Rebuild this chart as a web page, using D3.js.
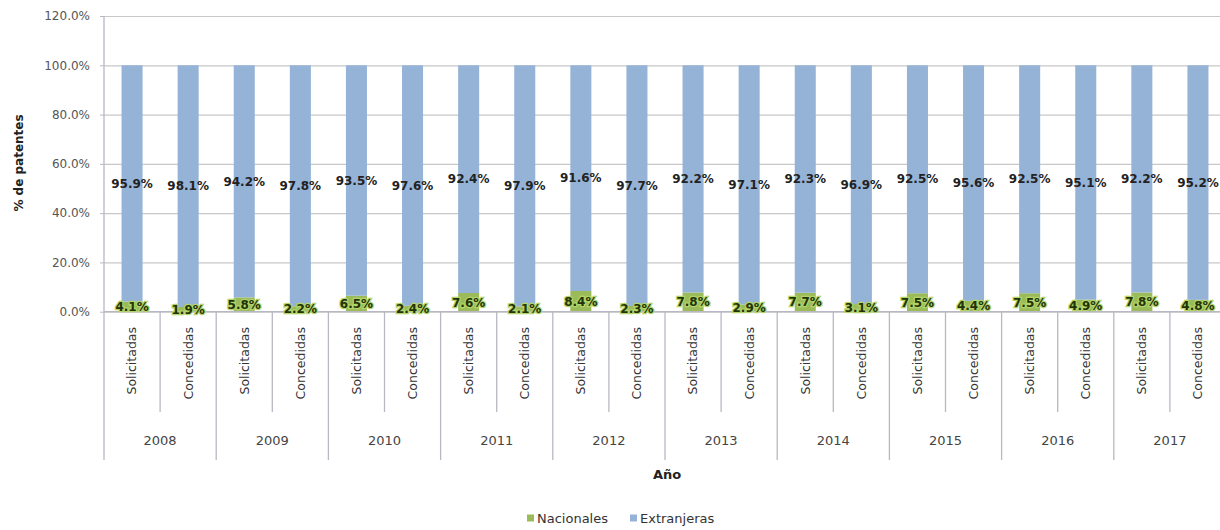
<!DOCTYPE html>
<html>
<head>
<meta charset="utf-8">
<script src="https://cdn.jsdelivr.net/npm/d3@7"></script>
<style>
body { margin: 0; background: #fff; }
text { font-family: "DejaVu Sans", sans-serif; }
</style>
</head>
<body>
<div id="chart"></div>
<script>
// data
var years = ["2008", "2009", "2010", "2011", "2012", "2013", "2014", "2015", "2016", "2017"];
var types = ["Solicitadas", "Concedidas"];
var seriesNames = ["Nacionales", "Extranjeras"];
// one pair per year: [Solicitadas, Concedidas]
var nacionales = [[4.1, 1.9], [5.8, 2.2], [6.5, 2.4], [7.6, 2.1], [8.4, 2.3], [7.8, 2.9], [7.7, 3.1], [7.5, 4.4], [7.5, 4.9], [7.8, 4.8]];
var extranjeras = [[95.9, 98.1], [94.2, 97.8], [93.5, 97.6], [92.4, 97.9], [91.6, 97.7], [92.2, 97.1], [92.3, 96.9], [92.5, 95.6], [92.5, 95.1], [92.2, 95.2]];
var yTicks = [0, 0.2, 0.4, 0.6, 0.8, 1.0, 1.2];

var W = 1220, H = 530;
var colors = {"Nacionales": "#9bbb59", "Extranjeras": "#95b3d7"};

// flat rows for stacking
var rows = [];
years.forEach(function(yr, i) {
	types.forEach(function(t, j) {
		rows.push({year: yr, type: t, Nacionales: nacionales[i][j] / 100, Extranjeras: extranjeras[i][j] / 100});
	});
});

var svg = d3.select("#chart").append("svg")
	.attr("width", W)
	.attr("height", H);

// plot area (right edge runs past the window, as in the reference)
var pLeft = 104, pRight = 1226, pTop = 16, pBottom = 311.7;

var x0 = d3.scaleBand().domain(years).range([pLeft, pRight]).padding(0);
var x1 = d3.scaleBand().domain(types).range([0, x0.bandwidth()])
	.paddingInner(0.625).paddingOuter(0.3125);
var y = d3.scaleLinear().domain([0, 1.2]).range([pBottom, pTop]);

///////////////////////// grid and axis /////////////////////////
var grid = svg.append("g")
	.attr("transform", "translate(" + pLeft + ",0)")
	.call(d3.axisLeft(y).tickValues(yTicks).tickSize(-(pRight - pLeft)).tickFormat(""));
grid.select(".domain").remove();
grid.selectAll("line").attr("stroke", "#c8c8c8").attr("stroke-width", 1.2);

var yAxis = svg.append("g")
	.attr("transform", "translate(" + pLeft + ",0)")
	.call(d3.axisLeft(y).tickValues(yTicks).tickSize(4).tickPadding(10).tickFormat(d3.format(".1%")));
yAxis.select(".domain").remove();
yAxis.selectAll("line").attr("stroke", "#b8b8c4");
yAxis.selectAll("text")
	.attr("fill", "#555")
	.style("font-size", "12px")
	.style("font-family", "DejaVu Sans");

// vertical axis line running down through the category area
svg.append("line")
	.attr("x1", pLeft).attr("x2", pLeft)
	.attr("y1", pTop).attr("y2", 460)
	.attr("stroke", "#b8b8c4").attr("stroke-width", 1.3);

///////////////////////// bars /////////////////////////
var stack = d3.stack().keys(seriesNames)(rows);

var layers = svg.append("g").selectAll("g")
	.data(stack).enter().append("g")
	.attr("fill", function(d) {return colors[d.key];});

layers.selectAll("rect")
	.data(function(d) {return d;})
	.enter().append("rect")
	.attr("x", function(d) {return x0(d.data.year) + x1(d.data.type);})
	.attr("width", x1.bandwidth())
	.attr("y", function(d) {return y(d[1]);})
	.attr("height", function(d) {return y(d[0]) - y(d[1]);});

// x axis line at 0%
svg.append("line")
	.attr("x1", pLeft).attr("x2", pRight)
	.attr("y1", pBottom).attr("y2", pBottom)
	.attr("stroke", "#b8b8c4").attr("stroke-width", 1.3);

// value labels in the middle of each segment
stack.forEach(function(layer) {
	svg.append("g").selectAll("text")
		.data(layer).enter().append("text")
		.attr("x", function(d) {return x0(d.data.year) + x1(d.data.type) + x1.bandwidth() / 2;})
		.attr("y", function(d) {return y((d[0] + d[1]) / 2);})
		.attr("dy", "0.35em")
		.attr("text-anchor", "middle")
		.style("font-size", "12px")
		.style("font-weight", "bold")
		.attr("fill", layer.key == "Nacionales" ? "#233306" : "#222")
		.attr("stroke", layer.key == "Nacionales" ? "#b2d46a" : "none")
		.attr("stroke-width", 2.5)
		.attr("paint-order", "stroke")
		.text(function(d) {return d3.format(".1%")(d.data[layer.key]);});
});

///////////////////////// category axis /////////////////////////
var cat = svg.append("g");
years.forEach(function(yr) {
	var gx = x0(yr);
	// year separator (right edge)
	cat.append("line")
		.attr("x1", gx + x0.bandwidth()).attr("x2", gx + x0.bandwidth())
		.attr("y1", pBottom).attr("y2", 460)
		.attr("stroke", "#b8b8c4").attr("stroke-width", 1.3);
	// inner separator between the two types
	cat.append("line")
		.attr("x1", gx + x0.bandwidth() / 2).attr("x2", gx + x0.bandwidth() / 2)
		.attr("y1", pBottom).attr("y2", 412)
		.attr("stroke", "#b8b8c4").attr("stroke-width", 1.3);
	types.forEach(function(t) {
		var cx = gx + x1(t) + x1.bandwidth() / 2;
		cat.append("text")
			.attr("transform", "translate(" + cx + ",327) rotate(-90)")
			.attr("text-anchor", "end")
			.attr("dy", "0.35em")
			.attr("fill", "#333")
			.style("font-size", "12.5px")
			.text(t);
	});
	cat.append("text")
		.attr("x", gx + x0.bandwidth() / 2)
		.attr("y", 440)
		.attr("dy", "0.35em")
		.attr("text-anchor", "middle")
		.attr("fill", "#444")
		.style("font-size", "13px")
		.text(yr);
});

///////////////////////// titles and legend /////////////////////////
svg.append("text")
	.attr("transform", "translate(19,163) rotate(-90)")
	.attr("text-anchor", "middle")
	.attr("dy", "0.35em")
	.style("font-size", "12px")
	.style("font-weight", "bold")
	.attr("fill", "#222")
	.text("% de patentes");

svg.append("text")
	.attr("x", 667).attr("y", 474)
	.attr("dy", "0.35em")
	.attr("text-anchor", "middle")
	.style("font-size", "13px")
	.style("font-weight", "bold")
	.attr("fill", "#222")
	.text("Año");

var legendX = [527, 630];
var legend = svg.append("g").selectAll("g")
	.data(seriesNames).enter().append("g")
	.attr("transform", function(d, i) {return "translate(" + legendX[i] + ",518)";});
legend.append("rect")
	.attr("x", 0).attr("y", -3.5)
	.attr("width", 7).attr("height", 7)
	.attr("fill", function(d) {return colors[d];});
legend.append("text")
	.attr("x", 10).attr("dy", "0.35em")
	.style("font-size", "13px")
	.attr("fill", "#333")
	.text(function(d) {return d;});
</script>
</body>
</html>
